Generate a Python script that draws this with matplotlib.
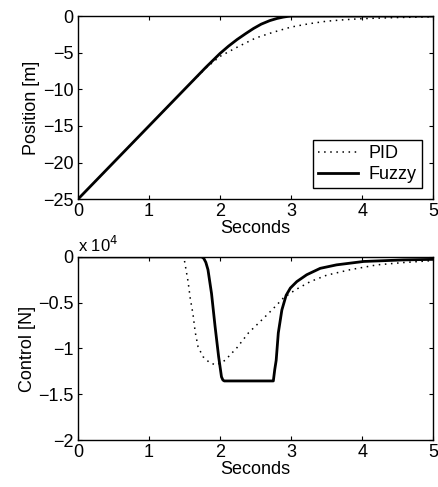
import numpy as np
import matplotlib
matplotlib.use('Agg')
from matplotlib import pyplot as plt

plt.rcParams['font.family'] = ['Liberation Sans', 'DejaVu Sans']
plt.rcParams['font.size'] = 13

# ---------------- position response [m]
t_pos_fuzzy = [0, 0.5, 1.0, 1.5, 1.8, 1.9, 2.0, 2.12, 2.24, 2.36, 2.47, 2.58, 2.70, 2.80, 2.89, 2.95, 3.0, 5.0]
pos_fuzzy = [-25, -20, -15, -10, -7.0, -6.05, -5.1, -4.1, -3.2, -2.4, -1.7, -1.1, -0.62, -0.33, -0.14, -0.05, 0, 0]

t_pos_pid = [0, 0.5, 1.0, 1.5, 1.8, 2.0, 2.25, 2.5, 2.75, 3.0, 3.25, 3.5, 3.75, 4.0, 4.5, 5.0]
pos_pid = [-25, -20, -15, -10, -7.1, -5.5, -4.2, -3.0, -2.2, -1.5, -1.05, -0.7, -0.5, -0.35, -0.2, -0.1]

# ---------------- control force [N]
t_u_fuzzy = [0, 1.74, 1.77, 1.80, 1.83, 1.88, 1.93, 1.98, 2.02, 2.04, 2.06, 2.75, 2.77, 2.79, 2.82,
             2.87, 2.93, 2.99, 3.08, 3.22, 3.41, 3.64, 4.02, 4.58, 5.0]
u_fuzzy = [0, 0, -150, -600, -1400, -4000, -7600, -10900, -13100, -13450, -13550, -13550, -12300,
           -11300, -8300, -5800, -4200, -3400, -2700, -1950, -1250, -870, -500, -330, -270]

t_u_pid = [0, 1.49, 1.51, 1.55, 1.58, 1.62, 1.65, 1.69, 1.76, 1.86, 1.95, 2.07, 2.24, 2.40, 2.56,
           2.73, 2.89, 3.06, 3.27, 3.50, 3.83, 4.21, 4.58, 5.0]
u_pid = [0, 0, -900, -2700, -4500, -6300, -8200, -9800, -10900, -11600, -11800, -11300, -9900,
         -8300, -7100, -5800, -4500, -3600, -2700, -2000, -1400, -870, -620, -400]

fig = plt.figure(figsize=(4.38, 4.87), dpi=100)
ax1 = fig.add_axes([0.178, 0.591, 0.811, 0.376])
ax2 = fig.add_axes([0.178, 0.0965, 0.811, 0.376])

ax1.plot(t_pos_pid, pos_pid, linestyle=(0, (1, 3)), color='black', linewidth=1.1, label='PID')
ax1.plot(t_pos_fuzzy, pos_fuzzy, '-', color='black', linewidth=2, label='Fuzzy')
ax1.set_xlim(0, 5)
ax1.set_ylim(-25, 0)
ax1.set_yticks([-25, -20, -15, -10, -5, 0])
ax1.set_xlabel('Seconds', labelpad=0)
ax1.set_ylabel('Position [m]', labelpad=2)
leg = ax1.legend(loc='lower right', fancybox=False, framealpha=1, edgecolor='black',
                 borderaxespad=0.6, handlelength=2.2, handletextpad=0.6, borderpad=0.3,
                 labelspacing=0.2)
leg.get_frame().set_linewidth(1.0)

ax2.plot(t_u_pid, np.array(u_pid) / 1e4, linestyle=(0, (1, 3)), color='black', linewidth=1.1)
ax2.plot(t_u_fuzzy, np.array(u_fuzzy) / 1e4, '-', color='black', linewidth=2)
ax2.set_xlim(0, 5)
ax2.set_ylim(-2, 0)
ax2.set_yticks([-2, -1.5, -1, -0.5, 0])
ax2.set_yticklabels(['\u22122', '\u22121.5', '\u22121', '\u22120.5', '0'])
ax2.set_xlabel('Seconds', labelpad=0)
ax2.set_ylabel('Control [N]', labelpad=2)
ax2.text(0.0, 1.01, 'x 10$^{4}$', transform=ax2.transAxes, ha='left', va='bottom', fontsize=12)

for ax in (ax1, ax2):
    ax.set_xticks([0, 1, 2, 3, 4, 5])
    ax.tick_params(direction='in', top=True, right=True, length=3, width=0.8, pad=3)
    for s in ax.spines.values():
        s.set_linewidth(1.0)

fig.savefig('out.png', dpi=100)
